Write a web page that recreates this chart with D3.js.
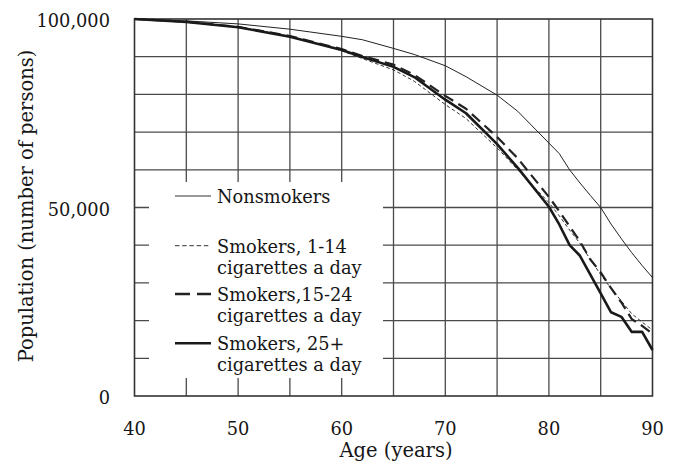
<!DOCTYPE html>
<html>
<head>
<meta charset="utf-8">
<script src="https://cdn.jsdelivr.net/npm/d3@7"></script>
<style>
  html, body { margin: 0; padding: 0; background: #fff; }
  svg { display: block; }
  text { font-family: "DejaVu Serif", "Liberation Serif", serif; fill: #161616; }
</style>
</head>
<body>
<svg id="chart" width="678" height="466"></svg>
<script>
const ages = [40,45,50,55,60,62,65,67,70,72,75,77,80,81,82,83,84,85,86,87,88,89,90];
const nonsmokers = [100000,99500,98700,97300,95400,94500,92200,90600,87600,84700,79800,75500,67100,64300,60000,56500,53200,50000,45600,41700,38000,34600,31400];
const smokers1to14 = [100000,99300,97900,95400,91600,89500,86500,83500,77300,73600,65800,60000,51300,47800,44000,40500,36200,32200,28500,25200,21800,19600,17500];
const smokers15to24 = [100000,99300,97900,95500,92000,90200,87900,85200,79600,76200,68700,63000,52800,49000,45000,41000,36200,32800,28600,24800,20400,18600,16500];
const smokers25plus = [100000,99200,97800,95300,91800,89900,87300,84600,78600,75000,66800,60500,50200,45500,40000,37200,32200,27200,22200,21000,17000,17000,12200];

const xTicks = [40,50,60,70,80,90];
const xGrid = [45,50,55,60,65,70,75,80,85];
const yTicks = [0,50000,100000];
const yGrid = [10000,20000,30000,40000,50000,60000,70000,80000,90000];
const xTitle = "Age (years)";
const yTitle = "Population (number of persons)";

const seriesNames = ["Nonsmokers", ["Smokers, 1-14","cigarettes a day"], ["Smokers,15-24","cigarettes a day"], ["Smokers, 25+","cigarettes a day"]];

const svg = d3.select("#chart");
const L = 134.5, R = 652.5, T = 19, B = 396;
const x = d3.scaleLinear().domain([40,90]).range([L,R]);
const y = d3.scaleLinear().domain([0,100000]).range([B,T]);

// grid
const g = svg.append("g");
g.selectAll("line.v").data(xGrid).enter().append("line")
  .attr("x1", d=>x(d)).attr("x2", d=>x(d)).attr("y1", T).attr("y2", B)
  .attr("stroke", "#4a4a4a").attr("stroke-width", 1.3);
g.selectAll("line.h").data(yGrid).enter().append("line")
  .attr("x1", L).attr("x2", R).attr("y1", d=>y(d)).attr("y2", d=>y(d))
  .attr("stroke", "#4a4a4a").attr("stroke-width", 1.3);

// legend background covering grid
svg.append("rect").attr("x", 149).attr("y", 182).attr("width", 383-149).attr("height", 378-182).attr("fill", "#fff");

// frame
svg.append("rect").attr("x", L).attr("y", T).attr("width", R-L).attr("height", B-T)
  .attr("fill", "none").attr("stroke", "#333").attr("stroke-width", 1.6);

// axis labels
svg.selectAll("text.yt").data(yTicks).enter().append("text")
  .attr("x", 110).attr("y", d=>y(d)+8).attr("text-anchor","end")
  .attr("font-size", 17.8).text(d=>d3.format(",")(d));
svg.selectAll("text.xt").data(xTicks).enter().append("text")
  .attr("x", d=>x(d)).attr("y", 435).attr("text-anchor","middle")
  .attr("font-size", 17.8).text(d=>d);
svg.append("text").attr("x", 396).attr("y", 457).attr("text-anchor","middle")
  .attr("font-size", 19.5).text(xTitle);
svg.append("text").attr("transform", "translate(33,206) rotate(-90)").attr("text-anchor","middle")
  .attr("font-size", 19.5).text(yTitle);

// lines
const styles = [
  {data: nonsmokers, w: 1, dash: null, color: "#222"},
  {data: smokers1to14, w: 1, dash: "3.5,2.5", color: "#333"},
  {data: smokers15to24, w: 2.2, dash: "11,6", color: "#222"},
  {data: smokers25plus, w: 2.6, dash: null, color: "#1a1a1a"}
];
const line = d3.line().x((d,i)=>x(ages[i])).y(d=>y(d));
styles.forEach(s => {
  svg.append("path").attr("d", line(s.data)).attr("fill","none")
    .attr("stroke", s.color).attr("stroke-width", s.w)
    .attr("stroke-dasharray", s.dash).attr("stroke-linejoin","round");
});

// legend
const legendY = [196, 245.7, 294, 343.3];
const legStyles = [
  {w: 1.3, dash: null, color: "#777"},
  {w: 1, dash: "4.5,2.7", color: "#333"},
  {w: 2.4, dash: "15,7", color: "#222"},
  {w: 2.6, dash: null, color: "#1a1a1a"}
];
seriesNames.forEach((n,i) => {
  const s = legStyles[i];
  svg.append("line").attr("x1", 175).attr("x2", 211).attr("y1", legendY[i]).attr("y2", legendY[i])
    .attr("stroke", s.color).attr("stroke-width", s.w).attr("stroke-dasharray", s.dash);
  const lines = Array.isArray(n) ? n : [n];
  lines.forEach((t,j) => {
    svg.append("text").attr("x", 217).attr("y", legendY[i] + 6.8 + j*21)
      .attr("font-size", 17.8).text(t);
  });
});
</script>
</body>
</html>
